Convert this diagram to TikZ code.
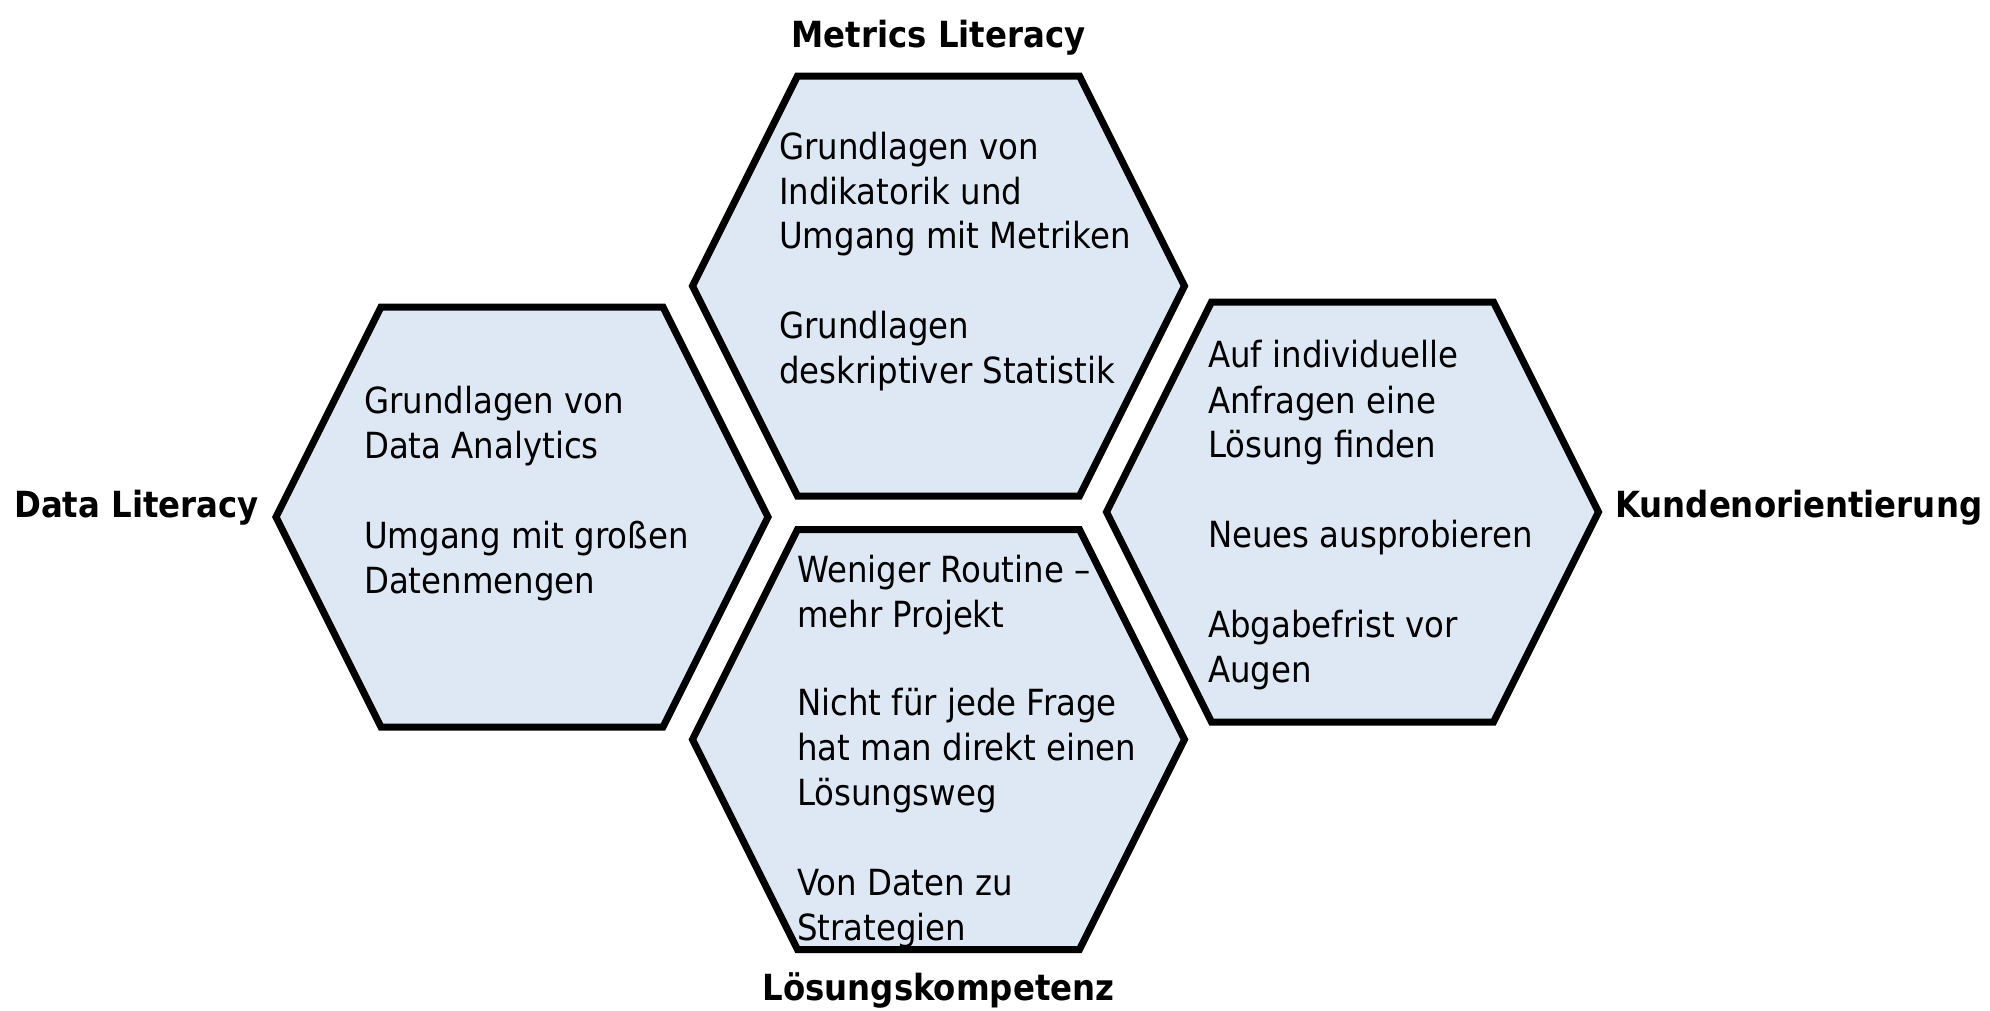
\documentclass[tikz,border=0pt]{standalone}
\usepackage{fontspec}
\setmainfont{DejaVu Sans Condensed}
\definecolor{hexfill}{HTML}{DEE8F5}
\begin{document}
\begin{tikzpicture}[x=1pt,y=-1pt,
  hexa/.style={draw=black,fill=hexfill,line width=7pt,line join=miter},
  body/.style={anchor=base west,inner sep=0pt,font=\fontsize{36}{44}\selectfont},
  title/.style={anchor=base,inner sep=0pt,font=\fontsize{36}{44}\selectfont\bfseries}]
\useasboundingbox (0,0) rectangle (1990,1010);
% hexagons (top, left, right, bottom)
\draw[hexa,shift={(938.5,286)}] (-246,0) -- (-141,-210) -- (141,-210) -- (246,0) -- (141,210) -- (-141,210) -- cycle;
\draw[hexa,shift={(522,517)}] (-246,0) -- (-141,-210) -- (141,-210) -- (246,0) -- (141,210) -- (-141,210) -- cycle;
\draw[hexa,shift={(1352.5,512)}] (-246,0) -- (-141,-210) -- (141,-210) -- (246,0) -- (141,210) -- (-141,210) -- cycle;
\draw[hexa,shift={(938.5,739.5)}] (-246,0) -- (-141,-210) -- (141,-210) -- (246,0) -- (141,210) -- (-141,210) -- cycle;
% titles
\node[title] (tMetrics) at (938.5,47) {Metrics Literacy};
\node[title,anchor=base east] (tData) at (259,517) {Data Literacy};
\node[title,anchor=base west] (tKunde) at (1615,517) {Kundenorientierung};
\node[title] (tLoesung) at (938.5,1000) {Lösungskompetenz};
% top hexagon text
\node[body] (m1) at (779,159) {Grundlagen von};
\node[body] (m2) at (779,204) {Indikatorik und};
\node[body] (m3) at (779,248) {Umgang mit Metriken};
\node[body] (m4) at (779,338) {Grundlagen};
\node[body] (m5) at (779,383) {deskriptiver Statistik};
% left hexagon text
\node[body] (d1) at (364,413) {Grundlagen von};
\node[body] (d2) at (364,458) {Data Analytics};
\node[body] (d3) at (364,548) {Umgang mit großen};
\node[body] (d4) at (364,593) {Datenmengen};
% right hexagon text
\node[body] (k1) at (1208,367) {Auf individuelle};
\node[body] (k2) at (1208,413) {Anfragen eine};
\node[body] (k3) at (1208,457) {Lösung finden};
\node[body] (k4) at (1208,547) {Neues ausprobieren};
\node[body] (k5) at (1208,637) {Abgabefrist vor};
\node[body] (k6) at (1208,682) {Augen};
% bottom hexagon text
\node[body] (l1) at (797,582) {Weniger Routine –};
\node[body] (l2) at (797,627) {mehr Projekt};
\node[body] (l3) at (797,715) {Nicht für jede Frage};
\node[body] (l4) at (797,760) {hat man direkt einen};
\node[body] (l5) at (797,805) {Lösungsweg};
\node[body] (l6) at (797,895) {Von Daten zu};
\node[body] (l7) at (797,940) {Strategien};
\end{tikzpicture}
\end{document}
